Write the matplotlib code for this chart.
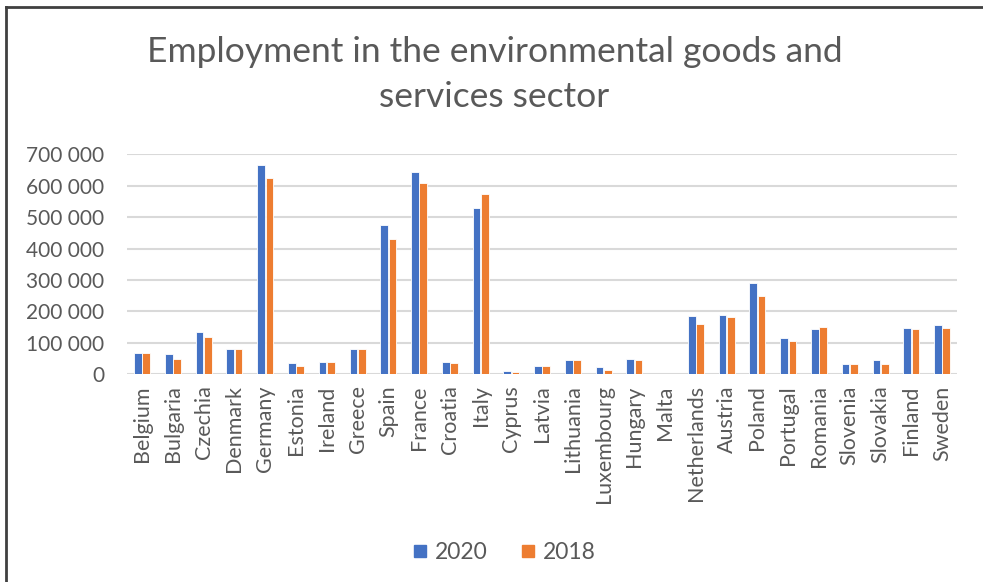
import matplotlib.pyplot as plt
import numpy as np
from matplotlib.lines import Line2D

countries = ["Belgium", "Bulgaria", "Czechia", "Denmark", "Germany", "Estonia",
             "Ireland", "Greece", "Spain", "France", "Croatia", "Italy", "Cyprus",
             "Latvia", "Lithuania", "Luxembourg", "Hungary", "Malta", "Netherlands",
             "Austria", "Poland", "Portugal", "Romania", "Slovenia", "Slovakia",
             "Finland", "Sweden"]
emp_2020 = [69000, 64000, 135000, 80000, 667000, 35000, 39000, 80000, 476000,
            642000, 39000, 530000, 10000, 26000, 44000, 22000, 48000, 1000,
            185000, 190000, 289000, 114000, 144000, 31000, 44000, 147000, 156000]
emp_2018 = [69000, 48000, 118000, 80000, 625000, 26000, 39000, 80000, 429000,
            609000, 35000, 572000, 6000, 26000, 44000, 15000, 44000, 800,
            160000, 181000, 248000, 106000, 151000, 31000, 31000, 143000, 147000]
yticks = [0, 100000, 200000, 300000, 400000, 500000, 600000, 700000]

BLUE = "#4472C4"
ORANGE = "#ED7D31"
GRAY = "#595959"
FONT = ["Lato", "DejaVu Sans"]


def main():
    plt.rcParams["font.family"] = FONT
    fig = plt.figure(figsize=(9.83, 5.82), dpi=100)
    ax = fig.add_axes([0.129, 0.357, 0.845, 0.378])

    x = np.arange(len(countries))
    w = 0.25
    ax.bar(x - w / 2 - 0.01, emp_2020, w, color=BLUE, edgecolor="white", linewidth=0.6, zorder=3)
    ax.bar(x + w / 2 + 0.01, emp_2018, w, color=ORANGE, edgecolor="white", linewidth=0.6, zorder=3)

    ax.set_xlim(-0.5, len(countries) - 0.5)
    ax.set_ylim(0, 700000)
    ax.set_yticks(yticks)
    ax.set_yticklabels([f"{v:,}".replace(",", " ") for v in yticks])
    ax.set_xticks(x)
    ax.set_xticklabels(countries, rotation=90)
    ax.tick_params(axis="both", length=0, colors=GRAY)
    ax.tick_params(axis="y", pad=16, labelsize=15)
    ax.tick_params(axis="x", pad=8, labelsize=15.5)
    for s in ax.spines.values():
        s.set_visible(False)
    ax.grid(axis="y", color="#D9D9D9", linewidth=1.5, zorder=0)

    fig.text(0.503, 0.872, "Employment in the environmental goods and\nservices sector",
             ha="center", va="center", fontsize=25.5, color=GRAY, linespacing=1.5)

    handles = [Line2D([], [], marker="s", ls="", color=BLUE, markersize=8),
               Line2D([], [], marker="s", ls="", color=ORANGE, markersize=8)]
    fig.legend(handles, ["2020", "2018"], loc="center", bbox_to_anchor=(0.508, 0.05),
               ncol=2, frameon=False, fontsize=16.5, labelcolor=GRAY,
               handletextpad=-0.1, columnspacing=1.0, handlelength=1.5)

    # chart border (top and left edges visible)
    fig.add_artist(Line2D([0.006, 1.0], [0.988, 0.988], color="#404040", lw=2))
    fig.add_artist(Line2D([0.006, 0.006], [0.0, 0.988], color="#404040", lw=2))

    fig.savefig("out.png", dpi=100)


if __name__ == "__main__":
    main()
